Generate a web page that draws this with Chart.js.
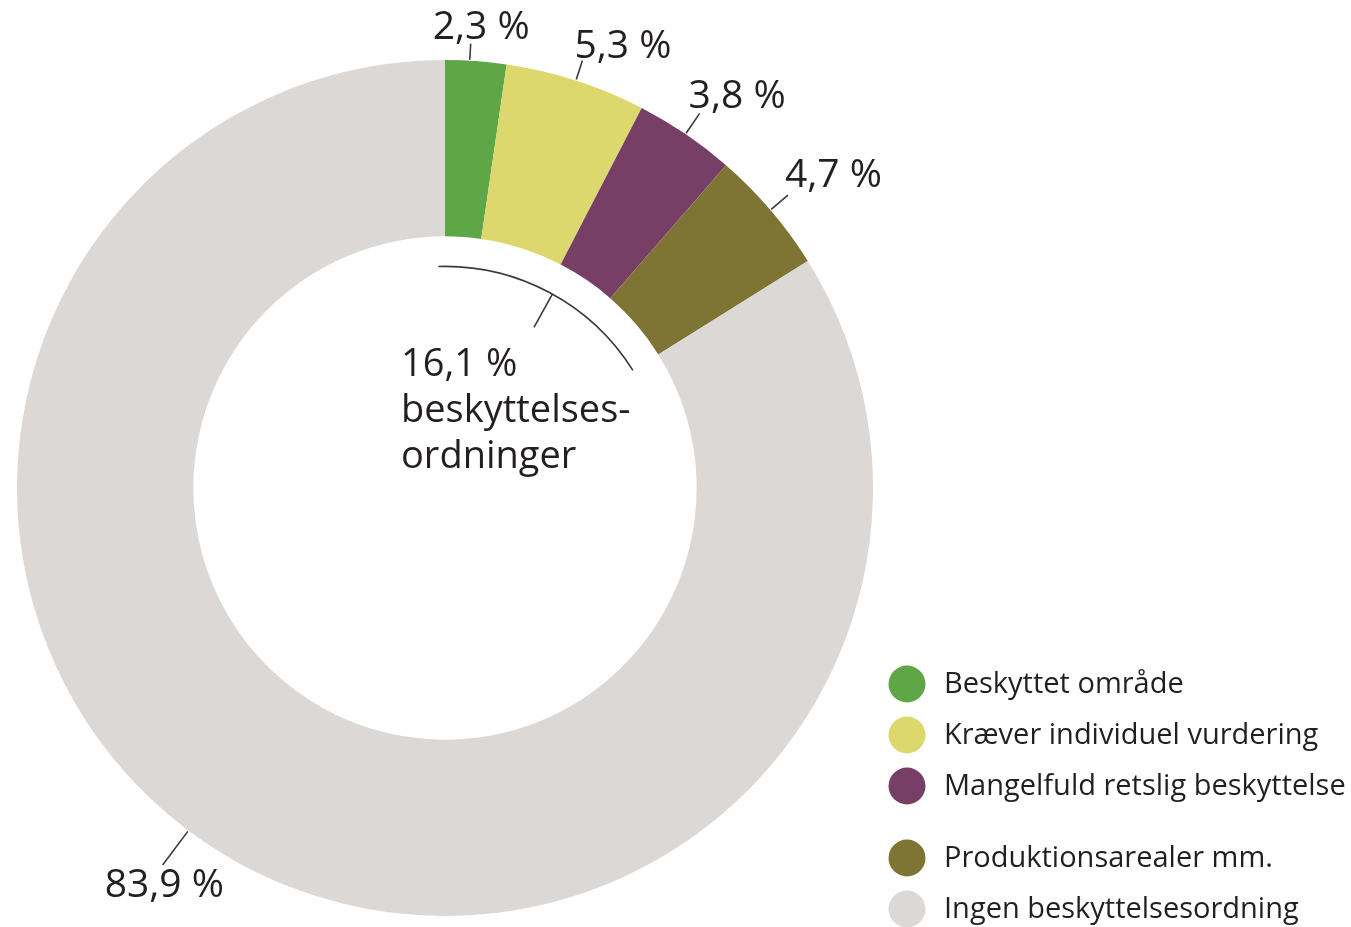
<!DOCTYPE html>
<html>
<head>
<meta charset="utf-8">
<script src="https://cdn.jsdelivr.net/npm/chart.js@4.4.1/dist/chart.umd.min.js"></script>
<style>
  html, body { margin: 0; padding: 0; background: #ffffff; }
  #wrap { position: relative; width: 1351px; height: 927px; }
</style>
</head>
<body>
<div id="wrap"><canvas id="donutChart" width="1351" height="927"></canvas></div>
<script>
// Kategorier og andele (procent)
const categories = ['Beskyttet område', 'Kræver individuel vurdering', 'Mangelfuld retslig beskyttelse', 'Produktionsarealer mm.', 'Ingen beskyttelsesordning'];
const shares = [2.3, 5.3, 3.8, 4.7, 83.9];
const shareLabels = ['2,3 %', '5,3 %', '3,8 %', '4,7 %', '83,9 %'];
const sliceColors = ['#5ea646', '#ddd86e', '#773f66', '#7e7434', '#dcd8d5'];
const groupLabel = ['16,1 %', 'beskyttelses-', 'ordninger'];

const textColor = '#231f20';
const fontFamily = '"Open Sans", sans-serif';

// Etiketter med små streger ud fra hver skive
const labelPlugin = {
    id: 'sliceLabels',
    afterDatasetsDraw(chart) {
        const ctx = chart.ctx;
        const arcs = chart.getDatasetMeta(0).data;
        // hvor på skiven etiketten sidder (0 = start, 1 = slut), stregens længde og tekstens forskydning
        const where = [0.4, 0.5, 0.5, 0.5, 0.526];
        const lineLen = [16, 20, 24, 22, 42];
        const dx = [-38, -8, -11, -3, -58];
        const dy = [-5, -3, -5, -8, 32];
        ctx.save();
        ctx.strokeStyle = '#3a3a3a';
        ctx.lineWidth = 1.6;
        ctx.fillStyle = textColor;
        ctx.font = '39px ' + fontFamily;
        ctx.textAlign = 'left';
        ctx.textBaseline = 'alphabetic';
        arcs.forEach((arc, i) => {
            const a = arc.startAngle + (arc.endAngle - arc.startAngle) * where[i];
            const r0 = arc.outerRadius + 1;
            const r1 = r0 + lineLen[i];
            const x0 = arc.x + Math.cos(a) * r0, y0 = arc.y + Math.sin(a) * r0;
            const x1 = arc.x + Math.cos(a) * r1, y1 = arc.y + Math.sin(a) * r1;
            ctx.beginPath();
            ctx.moveTo(x0, y0);
            ctx.lineTo(x1, y1);
            ctx.stroke();
            ctx.fillText(shareLabels[i], x1 + dx[i], y1 + dy[i]);
        });

        // bue inde i ringen for de fire beskyttede kategorier
        const first = arcs[0], last = arcs[3];
        const rIn = first.innerRadius - 30;
        ctx.beginPath();
        ctx.arc(first.x, first.y, rIn, first.startAngle - 0.03, last.endAngle);
        ctx.stroke();
        const mid = (first.startAngle + last.endAngle) / 2;
        ctx.beginPath();
        ctx.moveTo(first.x + Math.cos(mid) * rIn, first.y + Math.sin(mid) * rIn);
        ctx.lineTo(first.x + Math.cos(mid) * (rIn - 38), first.y + Math.sin(mid) * (rIn - 38));
        ctx.stroke();
        ctx.font = '38px ' + fontFamily;
        ctx.fillText(groupLabel[0], first.x - 44, first.y - 112);
        ctx.fillText(groupLabel[1], first.x - 44, first.y - 66);
        ctx.fillText(groupLabel[2], first.x - 44, first.y - 20);
        ctx.restore();
    }
};

// Forklaring nederst til højre
const legendPlugin = {
    id: 'customLegend',
    afterDraw(chart) {
        const ctx = chart.ctx;
        const rowsY = [684, 735, 786, 858, 909];
        ctx.save();
        ctx.font = '29px ' + fontFamily;
        ctx.textBaseline = 'middle';
        ctx.textAlign = 'left';
        categories.forEach((name, i) => {
            ctx.fillStyle = sliceColors[i];
            ctx.beginPath();
            ctx.arc(907, rowsY[i], 18.5, 0, Math.PI * 2);
            ctx.fill();
            ctx.fillStyle = textColor;
            ctx.fillText(name, 944, rowsY[i] + 1);
        });
        ctx.restore();
    }
};

new Chart(document.getElementById('donutChart').getContext('2d'), {
    type: 'doughnut',
    data: {
        labels: categories,
        datasets: [{
            data: shares,
            backgroundColor: sliceColors,
            borderWidth: 0,
            hoverOffset: 0
        }]
    },
    options: {
        responsive: false,
        animation: false,
        cutout: '58.8%',
        layout: { padding: { left: 17, top: 60, right: 478, bottom: 11 } },
        plugins: {
            legend: { display: false },
            tooltip: { enabled: false }
        }
    },
    plugins: [labelPlugin, legendPlugin]
});
</script>
</body>
</html>
